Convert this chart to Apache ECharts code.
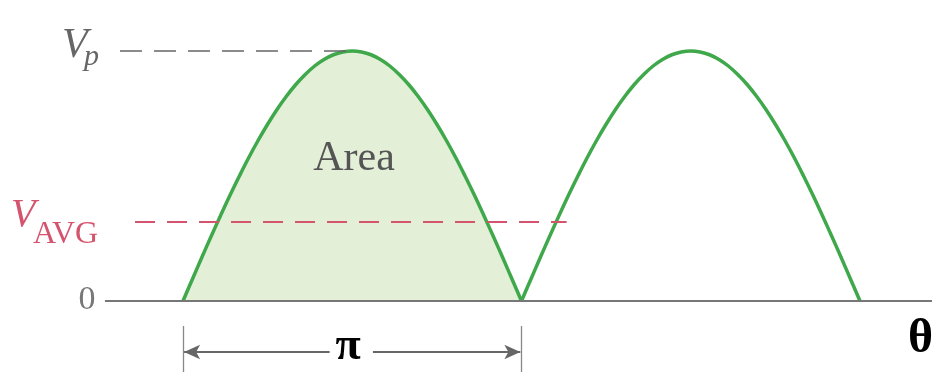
<!DOCTYPE html>
<html>
<head>
<meta charset="utf-8">
<script src="https://cdn.jsdelivr.net/npm/echarts@6/dist/echarts.min.js"></script>
<style>
html,body{margin:0;padding:0;background:#fff;}
#c{width:932px;height:372px;}
</style>
</head>
<body>
<div id="c"></div>
<script>
// angle in degrees, values as fraction of Vp
const theta1 = [0,5,10,15,20,25,30,35,40,45,50,55,60,65,70,75,80,85,90,95,100,105,110,115,120,125,130,135,140,145,150,155,160,165,170,175,180];
const vals1  = [0,0.087,0.174,0.259,0.342,0.423,0.500,0.574,0.643,0.707,0.766,0.819,0.866,0.906,0.940,0.966,0.985,0.996,1.000,0.996,0.985,0.966,0.940,0.906,0.866,0.819,0.766,0.707,0.643,0.574,0.500,0.423,0.342,0.259,0.174,0.087,0];
const theta2 = [180,185,190,195,200,205,210,215,220,225,230,235,240,245,250,255,260,265,270,275,280,285,290,295,300,305,310,315,320,325,330,335,340,345,350,355,360];
const vals2  = [0,0.087,0.174,0.259,0.342,0.423,0.500,0.574,0.643,0.707,0.766,0.819,0.866,0.906,0.940,0.966,0.985,0.996,1.000,0.996,0.985,0.966,0.940,0.906,0.866,0.819,0.766,0.707,0.643,0.574,0.500,0.423,0.342,0.259,0.174,0.087,0];
const vPeak = 1.0;
const vAvg = 0.318;
const labels = {vp: ['V','p'], vavg: ['V','AVG'], zero: '0', area: 'Area', period: 'π', axis: 'θ'};

const serif = '"Liberation Serif","DejaVu Serif",serif';
const chart = echarts.init(document.getElementById('c'));
const xMin = -97.3, xMax = 398.3;

chart.setOption({
  animation: false,
  grid: {left: 0, right: 0, top: 0, bottom: 0},
  xAxis: {type: 'value', min: xMin, max: xMax, show: false},
  yAxis: {type: 'value', min: -0.284, max: 1.204, show: false},
  series: [
    {
      type: 'line', smooth: 0.4, symbol: 'none', clip: false, z: 3,
      data: theta1.map((t,i)=>[t, vals1[i]]),
      lineStyle: {color: '#3fa84b', width: 3.5},
      areaStyle: {color: '#e3efd7', opacity: 1},
      markLine: {
        silent: true, symbol: 'none', animation: false,
        label: {show: false},
        data: [
          [{coord: [-41.5, 0], lineStyle: {color: '#777', width: 2, type: 'solid'}}, {coord: [xMax, 0]}],
          [{coord: [-33.5, vPeak], lineStyle: {color: '#666', width: 1.6, type: [22, 12]}}, {coord: [90, vPeak]}],
          [{coord: [-25.5, vAvg], lineStyle: {color: '#d4546e', width: 2, type: [20, 12]}}, {coord: [204, vAvg]}],
          [{coord: [0, -0.1], lineStyle: {color: '#888', width: 1.3, type: 'solid'}}, {coord: [0, -0.284]}],
          [{coord: [180, -0.1], lineStyle: {color: '#888', width: 1.3, type: 'solid'}}, {coord: [180, -0.284]}],
          [{coord: [78, -0.204], symbol: 'none', lineStyle: {color: '#666', width: 2, type: 'solid'}}, {coord: [0.6, -0.204], symbol: 'arrow', symbolSize: [11, 16]}],
          [{coord: [101, -0.204], symbol: 'none', lineStyle: {color: '#666', width: 2, type: 'solid'}}, {coord: [179.4, -0.204], symbol: 'arrow', symbolSize: [11, 16]}]
        ]
      }
    },
    {
      type: 'line', smooth: 0.4, symbol: 'none', clip: false, z: 3,
      data: theta2.map((t,i)=>[t, vals2[i]]),
      lineStyle: {color: '#3fa84b', width: 3.5}
    }
  ],
  graphic: [
    {type:'text', z: 100, x: 62, y: 46, style:{text: labels.vp[0], font: 'italic 42px ' + serif, fill:'#666', textAlign:'left', textVerticalAlign:'middle', align:'left', verticalAlign:'middle'}},
    {type:'text', z: 100, x: 84, y: 57, style:{text: labels.vp[1], font: 'italic 30px ' + serif, fill:'#666', textAlign:'left', textVerticalAlign:'middle', align:'left', verticalAlign:'middle'}},
    {type:'text', z: 100, x: 11, y: 215, style:{text: labels.vavg[0], font: 'italic 40px ' + serif, fill:'#d4546e', textAlign:'left', textVerticalAlign:'middle', align:'left', verticalAlign:'middle'}},
    {type:'text', z: 100, x: 33, y: 235, style:{text: labels.vavg[1], font: '32px ' + serif, fill:'#d4546e', textAlign:'left', textVerticalAlign:'middle', align:'left', verticalAlign:'middle'}},
    {type:'text', z: 100, x: 87, y: 300, style:{text: labels.zero, font: '34px ' + serif, fill:'#777', textAlign:'center', textVerticalAlign:'middle', align:'center', verticalAlign:'middle'}},
    {type:'text', z: 100, x: 354, y: 159, style:{text: labels.area, font: '42px ' + serif, fill:'#555', textAlign:'center', textVerticalAlign:'middle', align:'center', verticalAlign:'middle'}},
    {type:'text', z: 100, x: 348, y: 347, style:{text: labels.period, font: 'bold 46px ' + serif, fill:'#000', textAlign:'center', textVerticalAlign:'middle', align:'center', verticalAlign:'middle'}},
    {type:'text', z: 100, x: 908, y: 340, style:{text: labels.axis, font: 'bold 48px ' + serif, fill:'#000', textAlign:'left', textVerticalAlign:'middle', align:'left', verticalAlign:'middle'}}
  ]
});
</script>
</body>
</html>
